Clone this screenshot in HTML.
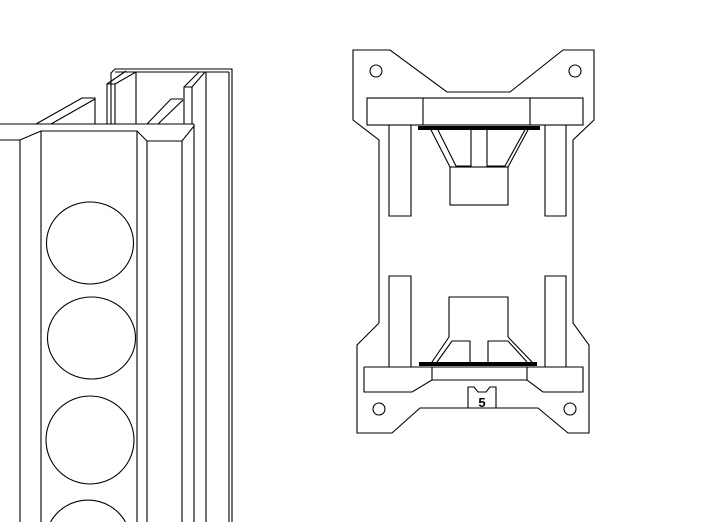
<!DOCTYPE html>
<html><head><style>html,body{margin:0;padding:0;background:#fff;width:706px;height:522px;overflow:hidden}svg{display:block}</style></head>
<body>
<svg width="706" height="522" viewBox="0 0 706 522" xmlns="http://www.w3.org/2000/svg" fill="none" stroke="#000" stroke-width="1.1">
<g>
<polyline points="111,124 111,73 115,69 232,69 232,522"/>
<line x1="115" y1="72" x2="229" y2="72"/>
<line x1="229" y1="72" x2="229" y2="522"/>
<line x1="206" y1="72" x2="206" y2="522"/>
<line x1="136" y1="72" x2="136" y2="124"/>
<polyline points="107,124 107,84 115,84 115,124"/>
<line x1="107" y1="84" x2="126" y2="71"/>
<line x1="115" y1="84" x2="136" y2="72"/>
<polyline points="184,124 184,87 192,87 192,124"/>
<line x1="184" y1="87" x2="199" y2="72"/>
<line x1="192" y1="87" x2="205" y2="72"/>
<polyline points="36,124 82,98 95,98 95,124"/>
<line x1="51" y1="124" x2="95" y2="99"/>
<polyline points="147,124 171,99 183,99"/>
<line x1="158" y1="124" x2="183" y2="100"/>
<line x1="0" y1="124" x2="194" y2="124"/>
<polyline points="0,140 20,140 41,131 137,131 147,141 182,141 194,126"/>
<line x1="194" y1="124" x2="194" y2="522"/>
<line x1="20" y1="140" x2="20" y2="522"/>
<line x1="41" y1="131" x2="41" y2="522"/>
<line x1="137" y1="131" x2="137" y2="522"/>
<line x1="147" y1="141" x2="147" y2="522"/>
<line x1="182" y1="141" x2="182" y2="522"/>
<ellipse cx="90" cy="243" rx="43.5" ry="41"/>
<ellipse cx="91.5" cy="338" rx="44" ry="41"/>
<ellipse cx="90" cy="440" rx="44" ry="44"/>
<path d="M50.5,522 A43,43 0 0 1 125.5,522"/>
</g>
<polyline points="379,323 379,140 353,120 353,50 390,50 447,92 510,92 563,50 594,50 594,120 573,140 573,323 589,345 589,433 568,433 538,408 420,408 392,433 357,433 357,345 379,323"/>
<circle cx="376" cy="71" r="6"/>
<circle cx="575" cy="71" r="6"/>
<circle cx="379" cy="409" r="6"/>
<circle cx="570" cy="409" r="6"/>
<rect x="367" y="98" width="216" height="27"/>
<line x1="423" y1="98" x2="423" y2="125"/>
<line x1="530" y1="98" x2="530" y2="125"/>
<polyline points="389,125 389,216 411,216 411,125"/>
<polyline points="545,125 545,216 566,216 566,125"/>
<line x1="418" y1="128" x2="540" y2="128" stroke-width="4"/>
<line x1="430" y1="128" x2="450" y2="167"/>
<polyline points="437,128 456,166 471,166 471,128"/>
<polyline points="487,128 487,166 505,166 526,128"/>
<line x1="508" y1="167" x2="529" y2="128"/>
<rect x="450" y="167" width="58" height="38"/>
<polyline points="389,367 389,276 411,276 411,367"/>
<polyline points="545,367 545,276 566,276 566,367"/>
<polyline points="364,367 364,392 412,392 432,380 527,380 543,392 583,392 583,367 364,367"/>
<line x1="432" y1="367" x2="432" y2="380"/>
<line x1="527" y1="367" x2="527" y2="380"/>
<line x1="419" y1="364" x2="537" y2="364" stroke-width="4"/>
<polyline points="449,337 449,297 508,297 508,337"/>
<line x1="449" y1="337" x2="432" y2="362"/>
<line x1="508" y1="337" x2="532" y2="362"/>
<polyline points="437,362 452,341 470,341 470,362"/>
<polyline points="527,362 508,341 488,341 488,362"/>
<polyline points="468,408 468,387 474,387 478,392 486,392 490,387 496,387 496,408"/>
<text x="482" y="407" font-family="Liberation Sans, sans-serif" font-size="13" font-weight="bold" fill="#000" stroke="none" text-anchor="middle">5</text>
</svg>
</body></html>
